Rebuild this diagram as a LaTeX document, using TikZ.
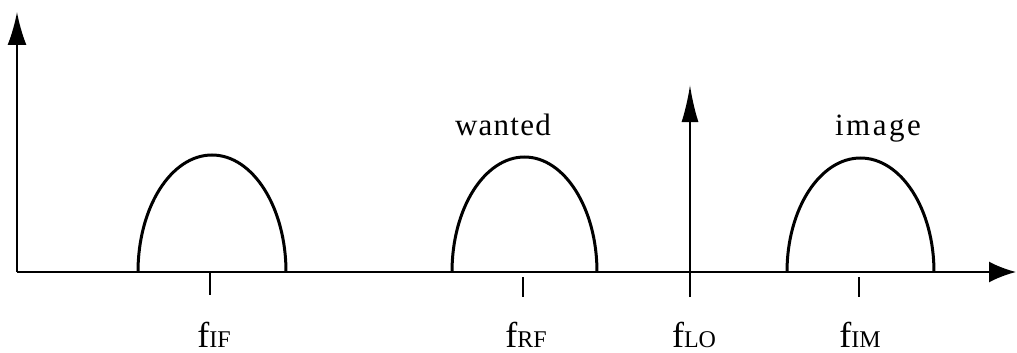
\documentclass[tikz,border=0pt]{standalone}
\usepackage{fontspec}
\setmainfont{Liberation Serif}
\newfontfamily\wantedfont[LetterSpace=4]{Liberation Serif}
\newfontfamily\imagefont[LetterSpace=8]{Liberation Serif}
\usetikzlibrary{arrows.meta}
\newcommand\bigf{\fontsize{36pt}{40pt}\selectfont}
\newcommand\subf{\fontsize{24pt}{28pt}\selectfont}
\begin{document}
\begin{tikzpicture}[x=1pt,y=1pt,
  axis/.style={line width=2pt},
  hump/.style={line width=3pt},
  tick/.style={line width=2pt},
  flabel/.style={anchor=base,inner sep=0pt},
  word/.style={anchor=base,inner sep=0pt}]
\useasboundingbox (0,0) rectangle (1017,-353);
% axes
\coordinate (o) at (17,-272);
\coordinate (ytop) at (17,-12);
\coordinate (xend) at (1016,-272);
\draw[axis,-{Latex[length=33pt,width=19pt]}] (o) -- (ytop);
\draw[axis,-{Latex[length=27pt,width=21pt]}] (o) -- (xend);
% LO arrow
\coordinate (lob) at (690,-297);
\coordinate (lot) at (690,-85);
\draw[axis,-{Latex[length=37pt,width=17pt]}] (lob) -- (lot);
% humps
\draw[hump,fill=white] (138,-272) arc[start angle=180,end angle=0,x radius=74,y radius=117];
\draw[hump,fill=white] (452,-272) arc[start angle=180,end angle=0,x radius=72.5,y radius=115];
\draw[hump,fill=white] (787,-272) arc[start angle=180,end angle=0,x radius=73.5,y radius=114];
\draw[axis] (130,-272) -- (295,-272);
\draw[axis] (445,-272) -- (605,-272);
\draw[axis] (780,-272) -- (945,-272);
% ticks
\coordinate (ifa) at (210,-272); \coordinate (ifb) at (210,-295);
\coordinate (rfa) at (523,-277); \coordinate (rfb) at (523,-297);
\coordinate (ima) at (859,-277); \coordinate (imb) at (859,-297);
\draw[tick] (ifa) -- (ifb);
\draw[tick] (rfa) -- (rfb);
\draw[tick] (ima) -- (imb);
% labels
\node[flabel] (lif) at (214,-347) {\bigf f\subf IF};
\node[flabel] (lrf) at (526,-347) {\bigf f\subf RF};
\node[flabel] (llo) at (694,-347) {\bigf f\subf LO};
\node[flabel] (lim) at (860,-347) {\bigf f\subf IM};
\node[word,font=\wantedfont\fontsize{31pt}{34pt}\selectfont] (wanted) at (503,-135) {wanted};
\node[word,font=\imagefont\fontsize{31pt}{34pt}\selectfont] (image) at (878,-135) {image};
\end{tikzpicture}
\end{document}
